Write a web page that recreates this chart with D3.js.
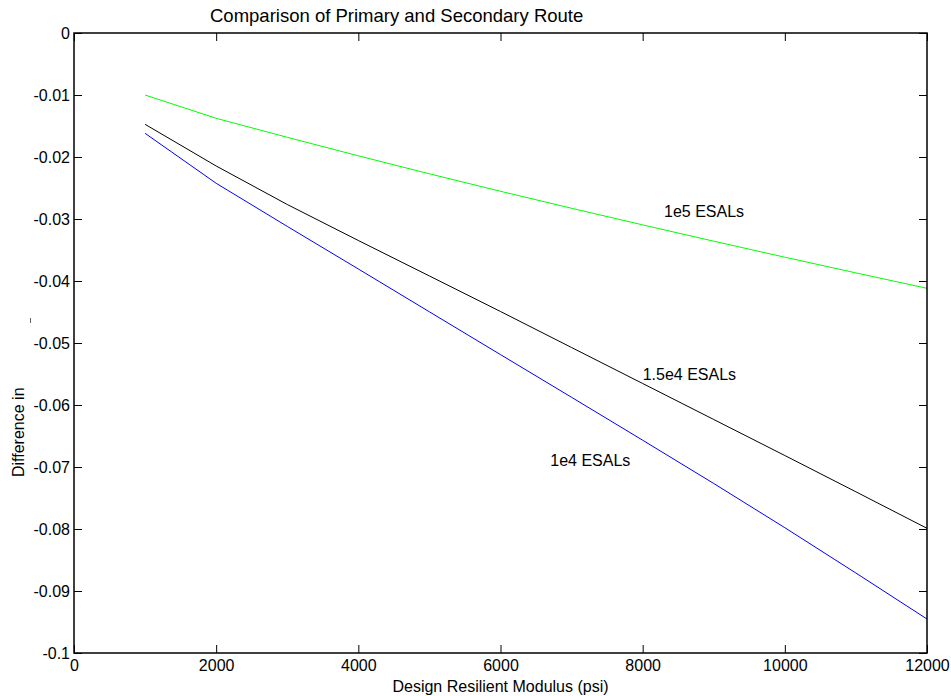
<!DOCTYPE html>
<html>
<head>
<meta charset="utf-8">
<script src="https://cdn.jsdelivr.net/npm/d3@7"></script>
<style>
  html, body { margin: 0; padding: 0; background: #fff; }
  svg { display: block; font-family: "Liberation Sans", Arial, sans-serif; }
</style>
</head>
<body>
<svg id="chart" width="951" height="696"></svg>
<script>
// Design resilient modulus (psi)
const modulus = [1000, 2000, 3000, 4000, 5000, 6000, 7000, 8000, 9000, 10000, 11000, 12000];

// Difference between primary and secondary route, per traffic level
const esal1e4 = [-0.01618, -0.02424, -0.03119, -0.03806, -0.04497, -0.05187, -0.05876, -0.06568, -0.07266, -0.07979, -0.08710, -0.09452];
const esal15e4 = [-0.01473, -0.02145, -0.02766, -0.03347, -0.03919, -0.04492, -0.05073, -0.05653, -0.06234, -0.06815, -0.07400, -0.07989];
const esal1e5 = [-0.01000, -0.01376, -0.01682, -0.01981, -0.02271, -0.02553, -0.02827, -0.03095, -0.03358, -0.03616, -0.03869, -0.04118];

const seriesNames = ["1e4 ESALs", "1.5e4 ESALs", "1e5 ESALs"];
const seriesColors = ["#0000ff", "#000000", "#00ff00"];

// Annotation anchors in data units
const labelX = [6700, 8000, 8300];
const labelY = [-0.0689, -0.0550, -0.0287];

const xTicks = [0, 2000, 4000, 6000, 8000, 10000, 12000];
const yTicks = [0, -0.01, -0.02, -0.03, -0.04, -0.05, -0.06, -0.07, -0.08, -0.09, -0.1];

const titleText = "Comparison of Primary and Secondary Route";
const xLabelText = "Design Resilient Modulus (psi)";
const yLabelText = "Difference in";

const svg = d3.select("#chart");
const plotLeft = 74, plotRight = 927, plotTop = 33, plotBottom = 653;

const x = d3.scaleLinear().domain([0, 12000]).range([plotLeft, plotRight]);
const y = d3.scaleLinear().domain([-0.1, 0]).range([plotBottom, plotTop]);

const fmtY = d => d === 0 ? "0" : String(+d.toFixed(2));
const fmtX = d => String(d);

svg.append("rect").attr("width", 951).attr("height", 696).attr("fill", "#fff");

// Series lines
const allSeries = [esal1e4, esal15e4, esal1e5];
const line = d3.line().x((d, i) => x(modulus[i])).y(d => y(d));
allSeries.forEach((vals, k) => {
  svg.append("path")
    .datum(vals)
    .attr("d", line)
    .attr("fill", "none")
    .attr("stroke", seriesColors[k])
    .attr("stroke-width", 1);
});

// Axes with inward ticks on all four sides
function styleAxis(g) {
  g.select(".domain").remove();
  g.selectAll(".tick line").attr("stroke", "#000");
  g.selectAll(".tick text").attr("fill", "#000").attr("font-size", 16);
}

svg.append("g").attr("transform", `translate(0,${plotBottom})`)
  .call(d3.axisBottom(x).tickValues(xTicks).tickFormat(fmtX).tickSizeInner(-8).tickSizeOuter(0).tickPadding(7))
  .call(styleAxis);
svg.append("g").attr("transform", `translate(0,${plotTop})`)
  .call(d3.axisTop(x).tickValues(xTicks).tickFormat("").tickSizeInner(-8).tickSizeOuter(0))
  .call(styleAxis);
svg.append("g").attr("transform", `translate(${plotLeft},0)`)
  .call(d3.axisLeft(y).tickValues(yTicks).tickFormat(fmtY).tickSizeInner(-8).tickSizeOuter(0).tickPadding(4))
  .call(styleAxis);
svg.append("g").attr("transform", `translate(${plotRight},0)`)
  .call(d3.axisRight(y).tickValues(yTicks).tickFormat("").tickSizeInner(-8).tickSizeOuter(0))
  .call(styleAxis);

// Axes box
svg.append("rect")
  .attr("x", plotLeft).attr("y", plotTop)
  .attr("width", plotRight - plotLeft).attr("height", plotBottom - plotTop)
  .attr("fill", "none").attr("stroke", "#000").attr("stroke-width", 1.5);

// Series annotations
seriesNames.forEach((name, k) => {
  svg.append("text")
    .attr("x", x(labelX[k])).attr("y", y(labelY[k]))
    .attr("dy", "0.36em")
    .attr("font-size", 16)
    .attr("fill", "#000")
    .text(name);
});

// Title and axis labels
svg.append("text")
  .attr("x", 210).attr("y", 22)
  .attr("font-size", 18.5).attr("fill", "#000")
  .text(titleText);

svg.append("text")
  .attr("x", (plotLeft + plotRight) / 2).attr("y", 692)
  .attr("text-anchor", "middle")
  .attr("font-size", 16).attr("fill", "#000")
  .text(xLabelText);

svg.append("text")
  .attr("transform", "translate(24,477) rotate(-90)")
  .attr("font-size", 16).attr("fill", "#000")
  .text(yLabelText);

svg.append("line")
  .attr("x1", 30.5).attr("x2", 30.5).attr("y1", 318).attr("y2", 323)
  .attr("stroke", "#666").attr("stroke-width", 1);
</script>
</body>
</html>
